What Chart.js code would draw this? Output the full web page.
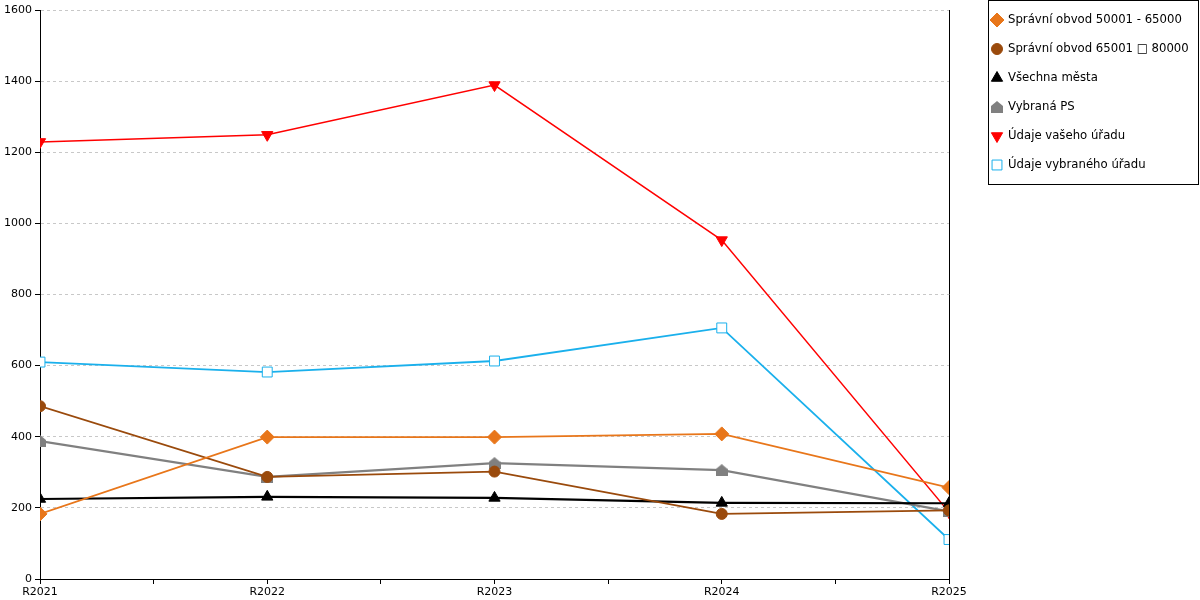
<!DOCTYPE html>
<html>
<head>
<meta charset="utf-8">
<script src="https://cdn.jsdelivr.net/npm/chart.js@4.4.0/dist/chart.umd.min.js"></script>
<style>
  body { margin: 0; background: #fff; }
  canvas { display: block; }
</style>
</head>
<body>
<canvas id="graf" width="1200" height="600"></canvas>
<script>
// hodnoty
const categories = ['R2021', 'R2022', 'R2023', 'R2024', 'R2025'];
const obvod50 = [183, 399, 399, 408, 257];
const obvod65 = [486, 287, 302, 183, 193];
const vsechnaMesta = [225, 231, 228, 214, 213];
const vybranaPS = [388, 287, 326, 306, 190];
const vasUrad = [1229, 1249, 1389, 953, 188];
const vybranyUrad = [610, 582, 613, 706, 111];
const yTicks = [0, 200, 400, 600, 800, 1000, 1200, 1400, 1600];

const FONT = 'DejaVu Sans';

// značka "domeček" pro Vybraná PS
function houseMarker(color) {
    const c = document.createElement('canvas');
    c.width = 12; c.height = 12;
    const g = c.getContext('2d');
    g.fillStyle = color;
    g.beginPath();
    g.moveTo(6, 0);
    g.lineTo(12, 5);
    g.lineTo(12, 12);
    g.lineTo(0, 12);
    g.lineTo(0, 5);
    g.closePath();
    g.fill();
    return c;
}

function toPoints(values) {
    return values.map((v, i) => ({ x: i, y: v }));
}

function serie(label, values, color, style, extra) {
    return Object.assign({
        label: label,
        data: toPoints(values),
        borderColor: color,
        backgroundColor: color,
        pointBackgroundColor: color,
        pointBorderColor: color,
        borderWidth: 1.8,
        pointStyle: style,
        pointRadius: 6,
        pointBorderWidth: 1,
        pointRotation: 0,
        tension: 0,
        fill: false
    }, extra || {});
}

const datasets = [
    serie('Správní obvod 50001 - 65000', obvod50, '#E8761A', 'rectRot', { pointRadius: 7 }),
    serie('Správní obvod 65001 \u25A1 80000', obvod65, '#9A4A0C', 'circle', { pointRadius: 5.5 }),
    serie('Všechna města', vsechnaMesta, '#000000', 'triangle', { borderWidth: 2.2, pointRadius: 6.5 }),
    serie('Vybraná PS', vybranaPS, '#808080', houseMarker('#808080'), { borderWidth: 2.2 }),
    serie('Údaje vašeho úřadu', vasUrad, '#FF0000', 'triangle', { borderWidth: 1.5, pointRotation: 180, pointRadius: 6.5 }),
    serie('Údaje vybraného úřadu', vybranyUrad, '#1AB0EC', 'rect', { pointRadius: 7, pointBackgroundColor: '#ffffff' })
];

const legendaAOkraj = {
    id: 'legendaAOkraj',
    afterDraw(chart) {
        const ctx = chart.ctx;
        const area = chart.chartArea;
        ctx.save();
        // pravý okraj grafu
        ctx.strokeStyle = '#000';
        ctx.lineWidth = 1;
        ctx.beginPath();
        ctx.moveTo(Math.round(area.right) + 0.5, area.top);
        ctx.lineTo(Math.round(area.right) + 0.5, area.bottom);
        ctx.stroke();

        // legenda v rámečku
        ctx.strokeRect(988.5, 0.5, 210, 184);
        ctx.font = '11.7px "' + FONT + '"';
        ctx.textBaseline = 'middle';
        ctx.textAlign = 'left';
        chart.data.datasets.forEach((ds, i) => {
            const y = 20 + i * 29;
            // drawPoint bere barvy z ctx
            ctx.fillStyle = ds.pointBackgroundColor;
            ctx.strokeStyle = ds.pointBorderColor;
            ctx.lineWidth = 1;
            Chart.helpers.drawPoint(ctx, {
                pointStyle: ds.pointStyle,
                radius: ds.pointRadius,
                rotation: ds.pointRotation,
                borderWidth: 1
            }, 997, y);
            ctx.fillStyle = '#000';
            ctx.fillText(ds.label, 1008, y);
        });
        ctx.restore();
    }
};

new Chart(document.getElementById('graf'), {
    type: 'line',
    data: { datasets: datasets },
    options: {
        responsive: false,
        animation: false,
        devicePixelRatio: 1,
        layout: { padding: { top: 10, right: 251, left: 0, bottom: 0 } },
        plugins: {
            legend: { display: false },
            tooltip: { enabled: false }
        },
        scales: {
            x: {
                type: 'linear',
                min: 0,
                max: categories.length - 1,
                afterBuildTicks(scale) {
                    const t = [];
                    for (let i = 0; i <= (categories.length - 1) * 2; i++) t.push({ value: i / 2 });
                    scale.ticks = t;
                },
                afterFit(scale) { scale.height = 21; },
                ticks: {
                    autoSkip: false,
                    maxRotation: 0,
                    padding: 2,
                    color: '#000',
                    font: { family: FONT, size: 11 },
                    callback: (v) => Number.isInteger(v) ? categories[v] : ''
                },
                grid: {
                    drawOnChartArea: false,
                    drawTicks: true,
                    tickLength: 5,
                    tickColor: '#000'
                },
                border: { color: '#000', width: 1 }
            },
            y: {
                min: 0,
                max: 1600,
                afterBuildTicks(scale) { scale.ticks = yTicks.map(v => ({ value: v })); },
                afterFit(scale) { scale.width = 40; },
                ticks: {
                    padding: 3,
                    color: '#000',
                    font: { family: FONT, size: 11 },
                    callback: (v) => String(v)
                },
                grid: {
                    color: (c) => c.tick && c.tick.value === 0 ? 'rgba(0,0,0,0)' : '#c8c8c8',
                    tickColor: '#000',
                    tickLength: 5,
                    lineWidth: 1
                },
                border: { color: '#000', width: 1, dash: [3, 3] }
            }
        }
    },
    plugins: [legendaAOkraj]
});
</script>
</body>
</html>
